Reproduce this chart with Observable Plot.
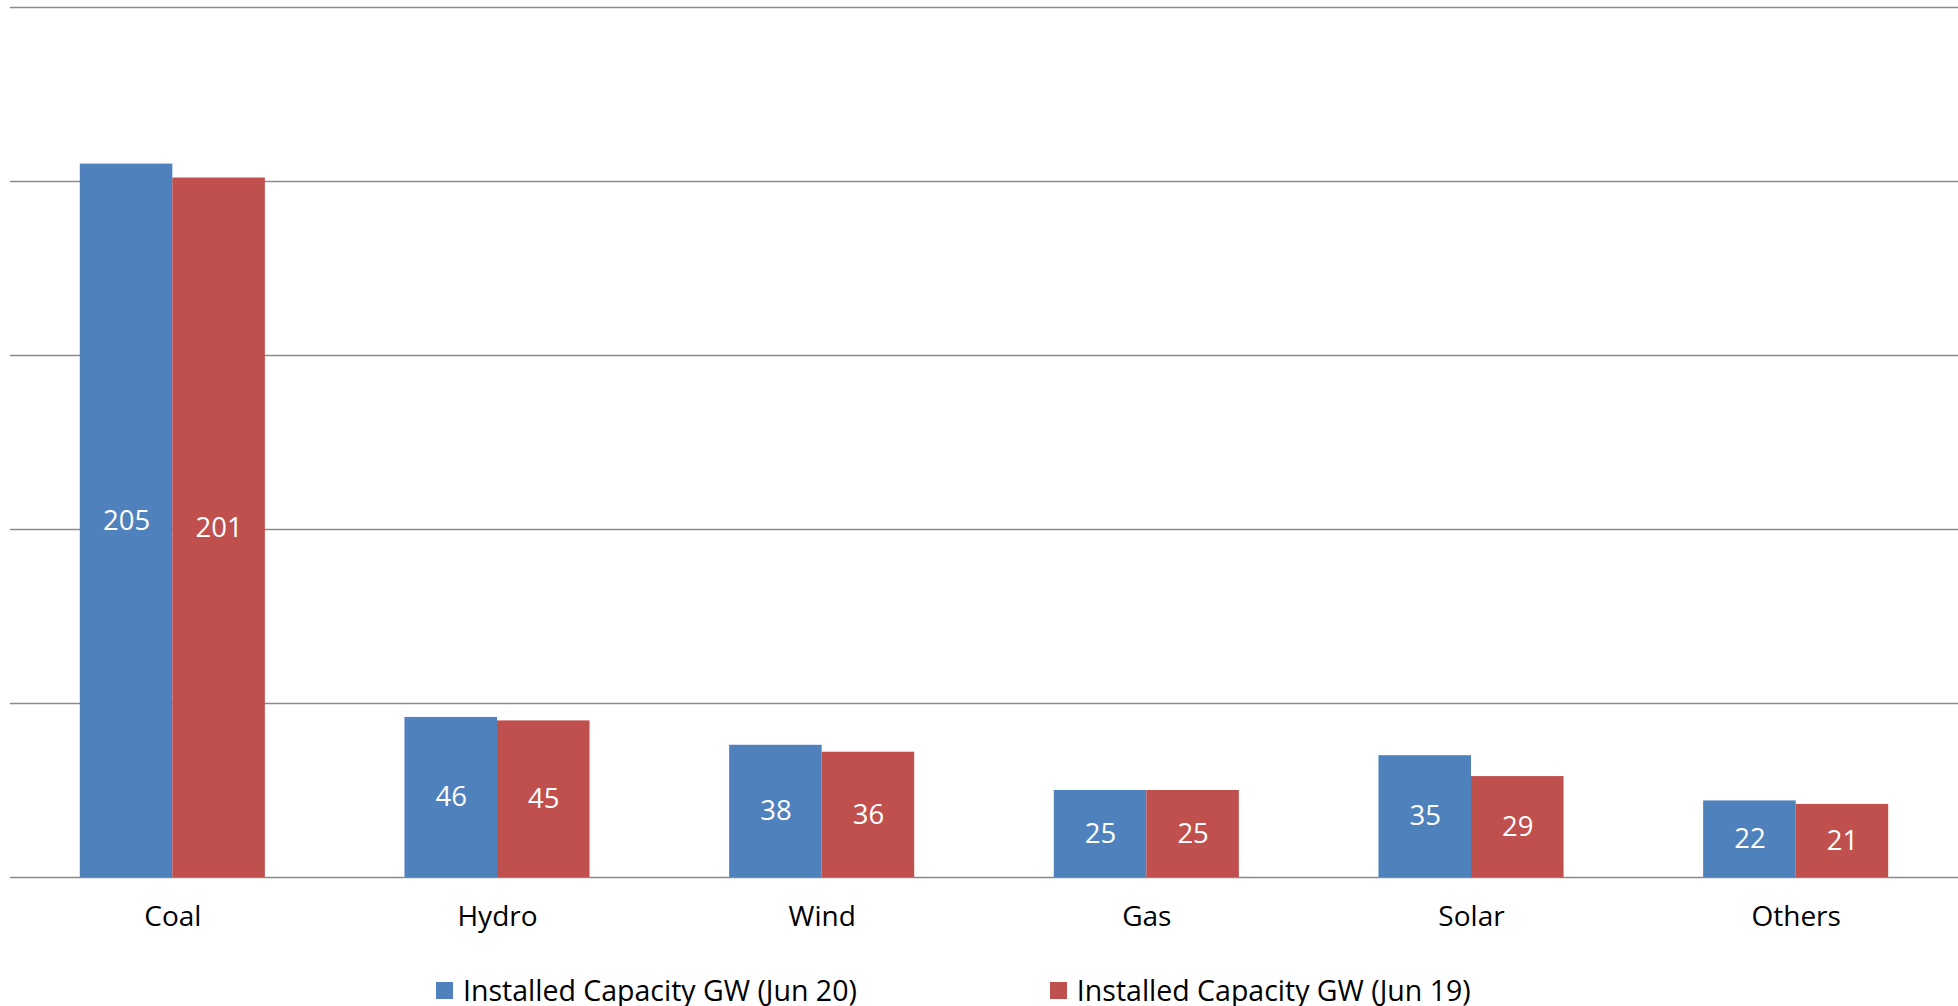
<!DOCTYPE html>
<html>
<head>
<meta charset="utf-8">
<script src="https://cdn.jsdelivr.net/npm/d3@7"></script>
<script src="https://cdn.jsdelivr.net/npm/@observablehq/plot@0.6"></script>
<style>
  html, body { margin: 0; padding: 0; background: #fff; }
  body { width: 1958px; height: 1006px; overflow: hidden; font-family: "Open Sans", sans-serif; }
  #legend { display: flex; align-items: center; height: 80px; padding-left: 436px; font-size: 28.5px; color: #000; }
  .item { display: flex; align-items: center; }
  .sw { width: 17px; height: 17px; margin-right: 10px; }
</style>
</head>
<body>
<div id="chart"></div>
<div id="legend"></div>
<script>
const categories = ["Coal", "Hydro", "Wind", "Gas", "Solar", "Others"];
const seriesNames = ["Installed Capacity GW (Jun 20)", "Installed Capacity GW (Jun 19)"];
const jun20 = [205, 46, 38, 25, 35, 22];
const jun19 = [201, 45, 36, 25, 29, 21];
const yTicks = [0, 50, 100, 150, 200, 250];
const colors = ["#4F81BD", "#C0504D"];

const halfWidth = 0.285; // bar width as fraction of category step
const rows = [];
categories.forEach((c, i) => {
  rows.push({cat: c, i, s: 0, series: seriesNames[0], value: jun20[i]});
  rows.push({cat: c, i, s: 1, series: seriesNames[1], value: jun19[i]});
});

const chart = Plot.plot({
  width: 1958,
  height: 950,
  marginTop: 7,
  marginBottom: 73,
  marginLeft: 10,
  marginRight: 0,
  style: {fontFamily: "Open Sans, sans-serif", fontSize: "28px", color: "#000", background: "#fff"},
  x: {type: "linear", domain: [-0.5, categories.length - 0.5], axis: null},
  y: {domain: [0, 250], axis: null},
  color: {domain: seriesNames, range: colors},
  marks: [
    Plot.ruleY(yTicks, {stroke: "#8a8a8a", strokeWidth: 1.6}),
    Plot.rectY(rows, {
      x1: d => d.i + (d.s === 0 ? -halfWidth : 0),
      x2: d => d.i + (d.s === 0 ? 0 : halfWidth),
      y1: 0, y2: "value", fill: "series"
    }),
    Plot.text(rows, {
      x: d => d.i + (d.s === 0 ? -halfWidth / 2 : halfWidth / 2),
      y: d => d.value / 2,
      text: d => String(d.value),
      fill: "white", fontSize: 27.5
    }),
    Plot.axisX({
      ticks: categories.map((_, i) => i),
      tickFormat: i => categories[i],
      tickSize: 0, tickPadding: 29, fontSize: 28, fill: "#000"
    })
  ]
});
document.getElementById("chart").appendChild(chart);

const legend = document.getElementById("legend");
seriesNames.forEach((name, k) => {
  const item = document.createElement("div");
  item.className = "item";
  if (k > 0) item.style.marginLeft = "193px";
  const sw = document.createElement("div");
  sw.className = "sw";
  sw.style.background = colors[k];
  const label = document.createElement("span");
  label.textContent = name;
  item.appendChild(sw);
  item.appendChild(label);
  legend.appendChild(item);
});
</script>
</body>
</html>
